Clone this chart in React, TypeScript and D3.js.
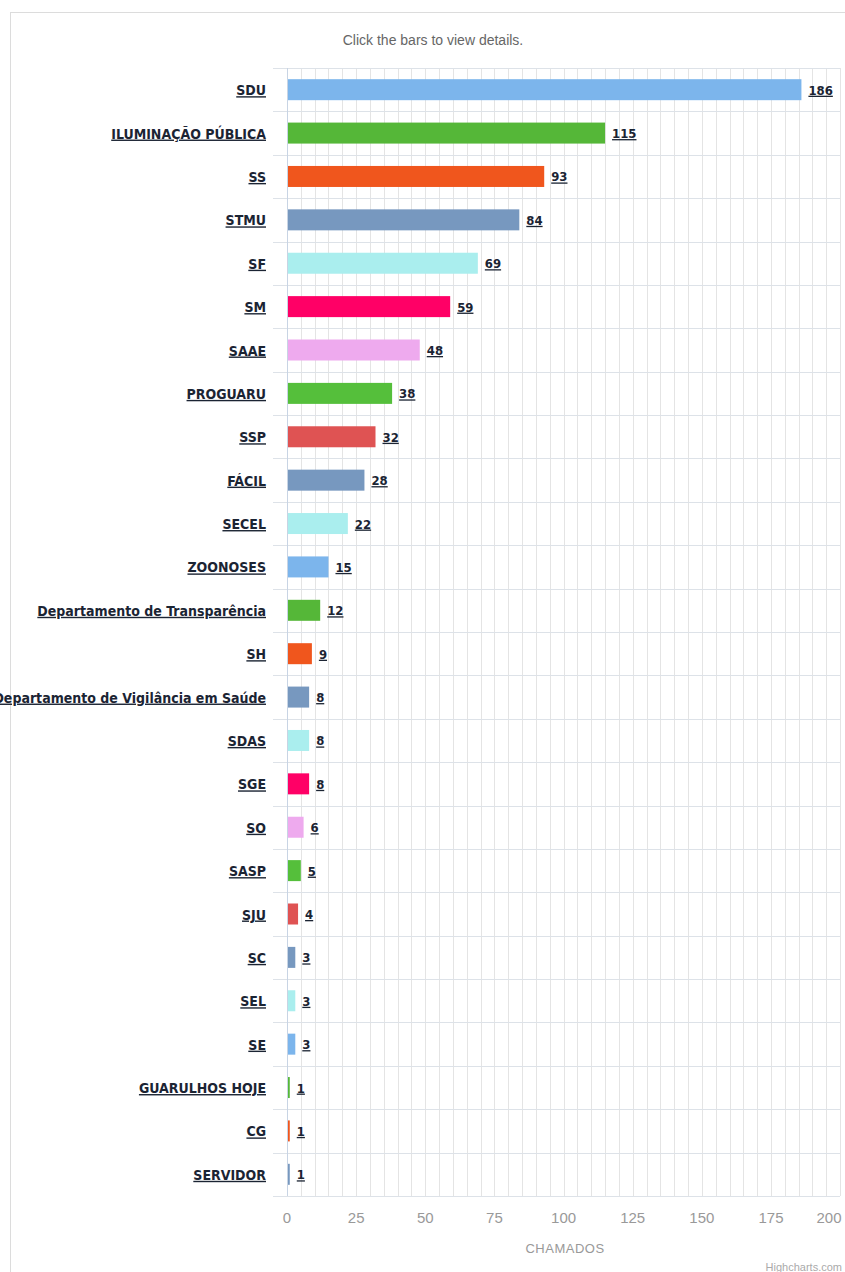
import React, { useEffect, useRef } from 'react';
import * as d3 from 'd3';

const categories = [
  'SDU', 'ILUMINAÇÃO PÚBLICA', 'SS', 'STMU', 'SF', 'SM', 'SAAE', 'PROGUARU', 'SSP', 'FÁCIL',
  'SECEL', 'ZOONOSES', 'Departamento de Transparência', 'SH', 'Departamento de Vigilância em Saúde',
  'SDAS', 'SGE', 'SO', 'SASP', 'SJU', 'SC', 'SEL', 'SE', 'GUARULHOS HOJE', 'CG', 'SERVIDOR',
];
const chamados = [186, 115, 93, 84, 69, 59, 48, 38, 32, 28, 22, 15, 12, 9, 8, 8, 8, 6, 5, 4, 3, 3, 3, 1, 1, 1];
const xTicks = [0, 25, 50, 75, 100, 125, 150, 175, 200];
const palette = ['#7cb5ec', '#55b738', '#f0561d', '#7798bf', '#aaeeee', '#ff0066', '#eeaaee', '#55bf3b', '#df5353', '#7798bf', '#aaeeee'];

const App = () => {
  const chart = useRef<SVGSVGElement>(null);

  useEffect(() => {
    document.body.style.margin = '0';
    const svg = d3.select(chart.current);
    svg.selectAll('*').remove();

    const left = 287, right = 840, top = 68, bottom = 1196;
    const labelFont = '"DejaVu Sans Condensed", "DejaVu Sans", sans-serif';
    const lightFont = '"Liberation Sans", sans-serif';

    // container border
    svg.append('rect')
      .attr('x', 10.5).attr('y', 12.5).attr('width', 900).attr('height', 1400)
      .attr('fill', 'white').attr('stroke', '#dcdcdc');

    svg.append('text')
      .attr('x', 433).attr('y', 45)
      .attr('text-anchor', 'middle')
      .style('font-family', lightFont).style('font-size', '14px').style('fill', '#666')
      .text('Click the bars to view details.');

    var x = d3.scaleLinear().domain([0, 200]).range([left, left + 200 * (484 / 175)]);
    var y = d3.scaleBand().domain(categories).range([top, bottom]);

    // vertical grid every 5
    svg.append('g')
      .selectAll('line')
      .data(d3.range(5, 205, 5))
      .enter()
      .append('line')
      .attr('x1', (d) => Math.round(x(d)) + 0.5)
      .attr('x2', (d) => Math.round(x(d)) + 0.5)
      .attr('y1', top).attr('y2', bottom)
      .attr('stroke', '#e4e4e4');

    // category lines
    svg.append('g')
      .selectAll('line')
      .data(d3.range(categories.length + 1))
      .enter()
      .append('line')
      .attr('x1', left - 14).attr('x2', right)
      .attr('y1', (i) => Math.round(top + i * y.step()) + 0.5)
      .attr('y2', (i) => Math.round(top + i * y.step()) + 0.5)
      .attr('stroke', '#dde2e8');

    // y axis line
    svg.append('line')
      .attr('x1', left + 0.5).attr('x2', left + 0.5)
      .attr('y1', top).attr('y2', bottom)
      .attr('stroke', '#c8d4e4');

    const rows = categories.map((c, i) => ({ c, v: chamados[i], i }));

    svg.append('g')
      .selectAll('rect')
      .data(rows)
      .enter()
      .append('rect')
      .attr('x', left + 1)
      .attr('y', (d) => y(d.c)! + y.step() / 2 - 10.5)
      .attr('height', 21)
      .attr('width', (d) => x(d.v) - left - 1)
      .attr('fill', (d) => palette[d.i % palette.length]);

    // category labels
    svg.append('g')
      .selectAll('text')
      .data(rows)
      .enter()
      .append('text')
      .attr('x', 266)
      .attr('y', (d) => y(d.c)! + y.step() / 2 + 5.5)
      .attr('text-anchor', 'end')
      .style('font-family', labelFont).style('font-weight', 'bold').style('font-size', '14px')
      .style('fill', '#1b2433').style('text-decoration', 'underline')
      .text((d) => d.c);

    // data labels
    svg.append('g')
      .selectAll('text')
      .data(rows)
      .enter()
      .append('text')
      .attr('x', (d) => x(d.v) + 7)
      .attr('y', (d) => y(d.c)! + y.step() / 2 + 5)
      .style('font-family', labelFont).style('font-weight', 'bold').style('font-size', '13px')
      .style('fill', '#1b2433').style('text-decoration', 'underline')
      .text((d) => d.v);

    // x axis labels
    svg.append('g')
      .selectAll('text')
      .data(xTicks)
      .enter()
      .append('text')
      .attr('x', (d) => (d === 200 ? 829 : x(d)))
      .attr('y', 1223)
      .attr('text-anchor', 'middle')
      .style('font-family', lightFont).style('font-size', '15px').style('fill', '#999')
      .text((d) => d);

    svg.append('text')
      .attr('x', 565).attr('y', 1253)
      .attr('text-anchor', 'middle')
      .style('font-family', lightFont).style('font-size', '13px').style('fill', '#999')
      .style('letter-spacing', '0.5px')
      .text('CHAMADOS');

    svg.append('text')
      .attr('x', 842).attr('y', 1271)
      .attr('text-anchor', 'end')
      .style('font-family', lightFont).style('font-size', '11px').style('fill', '#aaa')
      .text('Highcharts.com');
  }, []);

  return <svg ref={chart} width={845} height={1272} style={{ display: 'block' }}></svg>;
};

export default App;
